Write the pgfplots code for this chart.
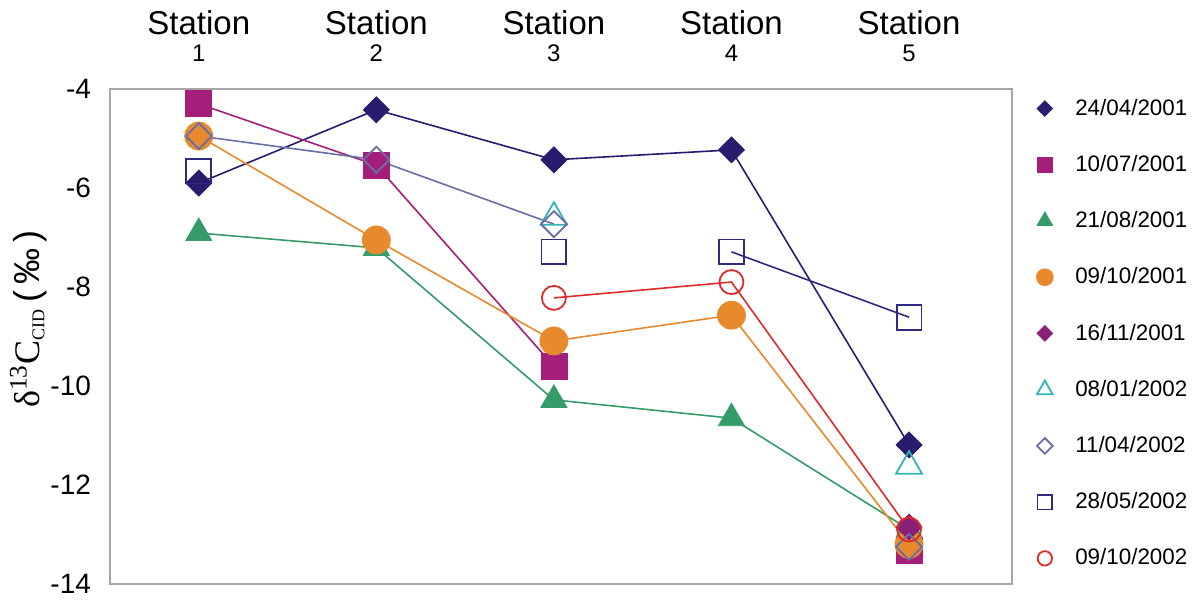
\documentclass[border=0pt]{standalone}
\usepackage{fontspec}
\setmainfont{Liberation Sans}
\newfontfamily\seriffont{Liberation Serif}
\usepackage{pgfplots}
\pgfplotsset{compat=1.18}

\definecolor{cNavy}{HTML}{2A1B6F}
\definecolor{cMag}{HTML}{A51F7A}
\definecolor{cGreen}{HTML}{359B69}
\definecolor{cOrange}{HTML}{E8892B}
\definecolor{cPurple}{HTML}{8A207A}
\definecolor{cCyan}{HTML}{33B5B8}
\definecolor{cSlate}{HTML}{6670A6}
\definecolor{cSqNavy}{HTML}{2E2A80}
\definecolor{cRed}{HTML}{E02A2A}

\newcommand{\st}[1]{Station\\[-4.5pt]{\fontsize{12}{13}\selectfont #1}}

\begin{document}
\begin{tikzpicture}
\begin{axis}[
  width=451pt, height=247.5pt, scale only axis,
  xmin=0.5, xmax=5.58, ymin=-14, ymax=-4,
  xtick={1,2,3,4,5},
  xticklabels={\st{1},\st{2},\st{3},\st{4},\st{5}},
  xticklabel pos=right,
  xticklabel style={align=center, font=\fontsize{16.5}{18}\selectfont, yshift=10pt},
  ytick={-14,-12,-10,-8,-6,-4},
  yticklabels={-14,-12,-10,-8,-6,-4},
  yticklabel style={font=\fontsize{14}{16}\selectfont, xshift=-6pt},
  ylabel={{\seriffont δ\textsuperscript{13}C\textsubscript{\fontsize{9}{10}\selectfont CID}}\,(\,‰\,)},
  ylabel style={font=\fontsize{18}{20}\selectfont, at={(ticklabel cs:0.535)}, yshift=-5pt},
  axis line style={draw=black!35, line width=0.8pt},
  tick style={draw=none},
  unbounded coords=jump,
  legend style={draw=none, fill=none, at={(1.02,0.997)}, anchor=north west,
    font=\fontsize{11.2}{13}\selectfont, row sep=14.5pt, column sep=9pt},
  legend cell align=left,
  legend image post style={/tikz/every mark/.append style={scale=0.6}},
]
% connecting lines
\addplot[forget plot, cNavy, line width=0.8pt] coordinates {(1,-5.90) (2,-4.42) (3,-5.43) (4,-5.23) (5,-11.19)};
\addplot[forget plot, cMag, line width=0.8pt] coordinates {(1,-4.30) (2,-5.54) (3,-9.60)};
\addplot[forget plot, cGreen, line width=0.8pt] coordinates {(1,-6.91) (2,-7.21) (3,-10.28) (4,-10.65) (5,-12.90)};
\addplot[forget plot, cOrange, line width=0.8pt] coordinates {(1,-4.95) (2,-7.05) (3,-9.09) (4,-8.57) (5,-13.20)};
\addplot[forget plot, cSlate, line width=0.8pt] coordinates {(1,-4.95) (2,-5.43) (3,-6.73)};
\addplot[forget plot, cSqNavy, line width=0.8pt] coordinates {(4,-7.29) (5,-8.61)};
\addplot[forget plot, cRed, line width=0.8pt] coordinates {(3,-8.22) (4,-7.90) (5,-12.90)};
% markers
\addplot[only marks, mark=square*, mark size=4.6pt, mark options={rotate=45, fill=cNavy, draw=cNavy}] coordinates {(1,-5.90) (2,-4.42) (3,-5.43) (4,-5.23) (5,-11.19)};
\addlegendentry{24/04/2001}
\addplot[only marks, mark=square*, mark size=6.5pt, mark options={fill=cMag, draw=cMag}] coordinates {(1,-4.30) (2,-5.54) (3,-9.60) (4,nan) (5,-13.33)};
\addlegendentry{10/07/2001}
\addplot[only marks, mark=triangle*, mark size=7.5pt, mark options={fill=cGreen, draw=cGreen}] coordinates {(1,-6.91) (2,-7.21) (3,-10.28) (4,-10.65) (5,-12.90)};
\addlegendentry{21/08/2001}
\addplot[only marks, mark=*, mark size=7pt, mark options={fill=cOrange, draw=cOrange}] coordinates {(1,-4.95) (2,-7.05) (3,-9.09) (4,-8.57) (5,-13.20)};
\addlegendentry{09/10/2001}
\addplot[only marks, mark=square*, mark size=4.6pt, mark options={rotate=45, fill=cPurple, draw=cPurple}] coordinates {(5,-12.85)};
\addlegendentry{16/11/2001}
\addplot[only marks, mark=triangle, mark size=7.5pt, mark options={draw=cCyan, line width=0.9pt}] coordinates {(3,-6.59) (5,-11.62)};
\addlegendentry{08/01/2002}
\addplot[only marks, mark=square, mark size=4.6pt, mark options={rotate=45, draw=cSlate, line width=0.9pt}] coordinates {(1,-4.95) (2,-5.43) (3,-6.73) (4,nan) (5,-13.25)};
\addlegendentry{11/04/2002}
\addplot[only marks, mark=square, mark size=6.2pt, mark options={draw=cSqNavy, line width=0.9pt}] coordinates {(1,-5.66) (3,-7.29) (4,-7.29) (5,-8.61)};
\addlegendentry{28/05/2002}
\addplot[only marks, mark=o, mark size=6pt, mark options={draw=cRed, line width=0.9pt}] coordinates {(3,-8.22) (4,-7.90) (5,-12.90)};
\addlegendentry{09/10/2002}
\end{axis}
\pgfresetboundingbox
\path[use as bounding box] (-55pt,-8.5pt) rectangle (542pt,292pt);
\end{tikzpicture}
\end{document}
